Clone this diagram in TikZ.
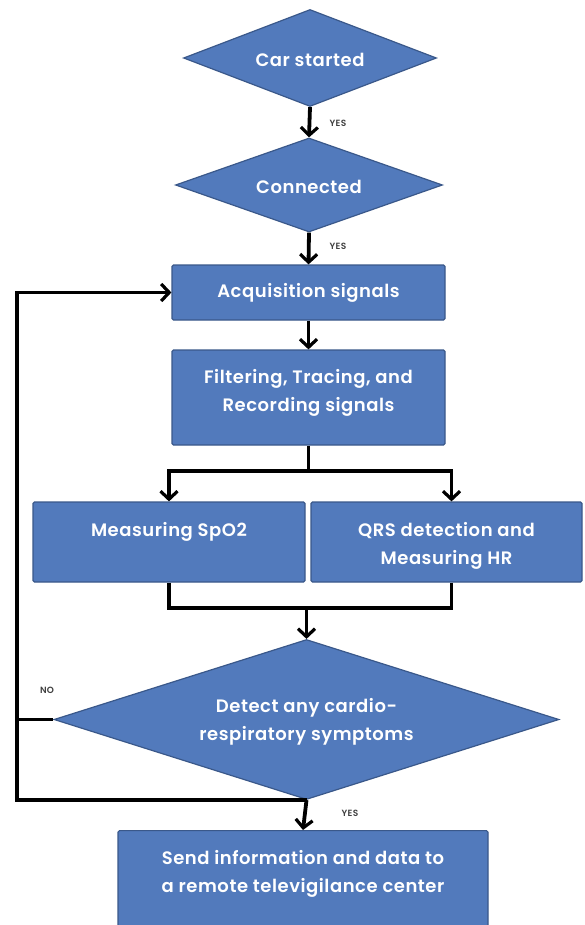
\documentclass[tikz,border=0pt]{standalone}
\usepackage{fontspec}
\setmainfont{Poppins}[UprightFont=* Medium, BoldFont=* SemiBold, LetterSpace=3]
\usetikzlibrary{shapes.geometric,arrows.meta}
\definecolor{boxfill}{RGB}{82,122,188}
\definecolor{boxline}{RGB}{58,88,138}
\tikzset{
  boxfont/.style={font=\fontsize{18}{28.5}\selectfont\bfseries,text=white,align=center},
  flowbox/.style={draw=boxline,line width=1.2pt,fill=boxfill,boxfont,inner sep=0pt,rounded corners=1.5pt},
  decbox/.style={diamond,draw=boxline,line width=1.2pt,fill=boxfill,boxfont,inner sep=0pt},
  conn/.style={draw=black,line width=3.8pt},
  arr/.style={conn,-{Straight Barb[length=8pt,width=17pt,line width=3.2pt]}},
  lab/.style={font=\fontsize{9}{10}\selectfont\bfseries,text=black!75,inner sep=0pt}
}
\begin{document}
\begin{tikzpicture}[x=1pt,y=-1pt]
\useasboundingbox (0,0) rectangle (584,925);
\clip (0,0) rectangle (584,925);
\fill[white] (0,0) rectangle (584,925);
% nodes
\node[decbox,aspect=2.6,minimum width=253pt,minimum height=97pt] (d1) at (310,58) {};
\node[boxfont] (d1t) at (310,60) {Car started};
\node[decbox,aspect=2.8,minimum width=267pt,minimum height=94pt] (d2) at (309,185) {};
\node[boxfont] (d2t) at (309,187) {Connected};
\node[flowbox,minimum width=273pt,minimum height=55pt] (acq) at (308.5,292.5) {Acquisition signals};
\node[flowbox,minimum width=273pt,minimum height=95pt] (filt) at (308.5,397.5) {};
\node[boxfont] (filtt) at (308.5,393) {Filtering, Tracing, and\\Recording signals};
\node[flowbox,minimum width=272pt,minimum height=80pt] (spo2) at (169,542) {};
\node[boxfont] (spo2t) at (169,532) {Measuring SpO2};
\node[flowbox,minimum width=271pt,minimum height=80pt] (qrs) at (446.5,542) {};
\node[boxfont] (qrst) at (446.5,546) {QRS detection and\\Measuring HR};
\node[decbox,aspect=3.2,minimum width=505pt,minimum height=160pt] (dec) at (306.5,719.5) {};
\node[boxfont] (dect) at (306.5,722) {Detect any cardio-\\respiratory symptoms};
\node[flowbox,minimum width=370pt,minimum height=110pt,anchor=north] (fin) at (303,830) {};
\node[boxfont] (fint) at (303,874) {Send information and data to\\a remote televigilance center};
% coordinates
\coordinate (br) at (308.5,471);
\coordinate (mg) at (306.5,608);
\coordinate (tl) at (17,292.5);
\coordinate (jl) at (dec.south -| tl);
\coordinate (nl) at (dec.west -| tl);
% connectors
\draw[arr] (d1.south) -- (d2.north);
\draw[arr] (d2.south) -- (acq.north);
\draw[arr] (acq.south) -- (filt.north);
\draw[conn] (filt.south) -- (br);
\draw[arr] (br) -| (spo2.north);
\draw[arr] (br) -| ([xshift=5pt]qrs.north);
\draw[conn] (spo2.south) |- (mg);
\draw[conn] ([xshift=5pt]qrs.south) |- (mg);
\draw[arr] (mg) -- (dec.north);
\draw[conn] (dec.west) -- (nl);
\draw[arr] (dec.south) -- (jl) -- (tl) -- (acq.west);
\draw[arr] (dec.south) -- (fin.north);
% labels
\node[lab] (y1) at (338,123) {YES};
\node[lab] (y2) at (338,246) {YES};
\node[lab] (no) at (47,690) {NO};
\node[lab] (y3) at (350,813) {YES};
\end{tikzpicture}
\end{document}
